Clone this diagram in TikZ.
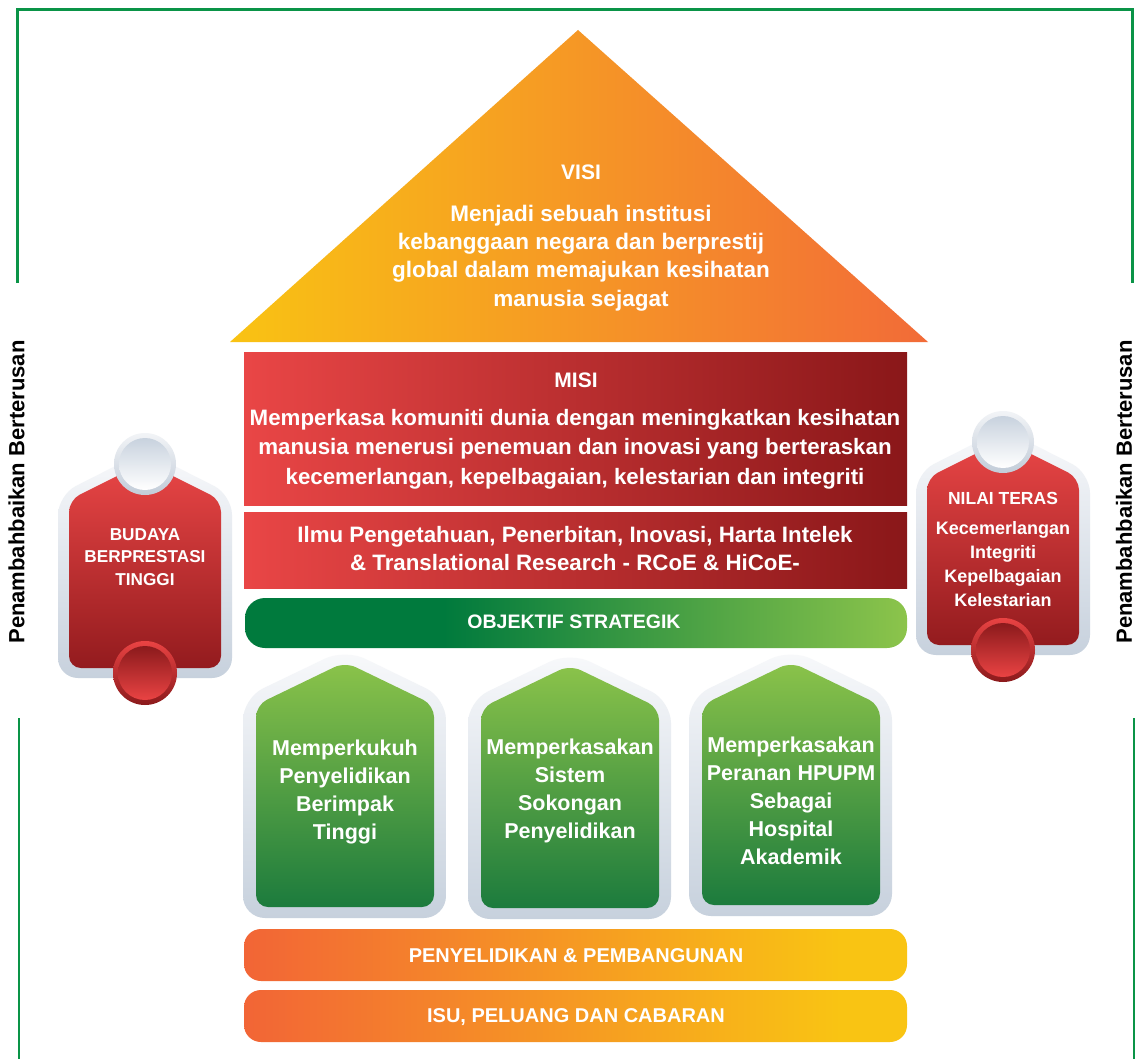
\documentclass[tikz,border=0pt]{standalone}
\usepackage{fontspec}
\setmainfont{Liberation Sans}
\definecolor{bordergreen}{HTML}{0A9447}
\definecolor{visiA}{HTML}{F9C313}
\definecolor{visiB}{HTML}{F26B38}
\definecolor{misiA}{HTML}{E94646}
\definecolor{misiB}{HTML}{8A1719}
\definecolor{objA}{HTML}{007A3D}
\definecolor{objB}{HTML}{8CC44B}
\definecolor{houseTop}{HTML}{8BC34A}
\definecolor{houseBot}{HTML}{1C7B3D}
\definecolor{frameTop}{HTML}{F8F9FB}
\definecolor{frameBot}{HTML}{C7D1DD}
\definecolor{redTop}{HTML}{E94646}
\definecolor{redBot}{HTML}{931B1E}
\definecolor{barA}{HTML}{F26536}
\definecolor{barB}{HTML}{F9C413}
\definecolor{ringTop}{HTML}{F2F4F7}
\definecolor{ringBot}{HTML}{C2CCD8}
\definecolor{discTop}{HTML}{C8D2DE}
\definecolor{dredA}{HTML}{E94343}
\definecolor{dredB}{HTML}{8B1A1C}
\pgfdeclarehorizontalshading{objshade}{100bp}{color(0bp)=(objA); color(40bp)=(objA); color(75bp)=(objB); color(100bp)=(objB)}
\pgfdeclarehorizontalshading{barshade}{100bp}{color(0bp)=(barA); color(25bp)=(barA); color(70bp)=(barB); color(100bp)=(barB)}
\tikzset{
  bline/.style={draw=bordergreen, line width=2.5pt},
  wtext/.style={text=white, align=center, inner sep=0pt},
  sidetext/.style={text=black, inner sep=0pt, font=\fontsize{22}{26}\selectfont\bfseries},
  housegreen/.style={top color=houseTop, bottom color=houseBot, rounded corners=12pt},
  houseframe/.style={top color=frameTop, bottom color=frameBot, rounded corners=22pt},
  pillarred/.style={top color=redTop, bottom color=redBot, rounded corners=12pt},
  pillarframe/.style={top color=frameTop, bottom color=frameBot, rounded corners=20pt},
}
\newcommand{\drawhouse}[5]{% L R S A B
  \shade[houseframe] ({#1-13},{#5+11}) -- ({#1-13},{#3-7}) -- ({(#1+#2)/2},{#4-13}) -- ({#2+12},{#3-7}) -- ({#2+12},{#5+11}) -- cycle;
  \shade[housegreen] (#1,#5) -- (#1,#3) -- ({(#1+#2)/2},#4) -- (#2,#3) -- (#2,#5) -- cycle;
}
\newcommand{\drawpillar}[3]{% cx ctop cbottom
  \shade[pillarframe] ({#1-87},{#3+5}) -- ({#1-87},{#2+31}) -- (#1,{#2-13}) -- ({#1+87},{#2+31}) -- ({#1+87},{#3+5}) -- cycle;
  \shade[pillarred] ({#1-76},{#3-5}) -- ({#1-76},{#2+36}) -- (#1,{#2-2}) -- ({#1+76},{#2+36}) -- ({#1+76},{#3-5}) -- cycle;
  \shade[top color=ringTop, bottom color=ringBot] (#1,#2) circle[radius=31];
  \shade[top color=discTop, bottom color=white] (#1,#2) circle[radius=26];
  \shade[top color=dredA, bottom color=dredB] (#1,#3) circle[radius=32];
  \shade[top color=dredB, bottom color=dredA] (#1,#3) circle[radius=27];
}
\begin{document}
\begin{tikzpicture}[x=1pt,y=-1pt]
\useasboundingbox (0,0) rectangle (1137,1059);
\fill[white] (0,0) rectangle (1137,1059);
% border
\draw[bline] (17.5,283) -- (17.5,9.5) -- (1132.5,9.5) -- (1132.5,283);
\draw[bline] (19,718) -- (19,1059);
\draw[bline] (1134,718) -- (1134,1059);
% roof
\shade[left color=visiA, right color=visiB] (230,342) -- (578,30) -- (928,342) -- cycle;
% mission blocks
\shade[left color=misiA, right color=misiB] (244,352) rectangle (907,505);
\shade[left color=misiA, right color=misiB] (244,512) rectangle (907,588);
\shade[shading=objshade, rounded corners=20pt] (245,598) rectangle (907,648);
% houses
\drawhouse{256}{434}{705}{662}{907}
\drawhouse{481}{659}{708}{665}{908}
\drawhouse{702}{880}{705}{662}{905}
% bars
\shade[shading=barshade, rounded corners=17pt] (244,929) rectangle (907,981);
\shade[shading=barshade, rounded corners=17pt] (244,990) rectangle (907,1042);
% pillars
\drawpillar{145}{464}{673}
\drawpillar{1003}{442}{650}
% texts
\node[wtext, font=\fontsize{21}{25}\selectfont\bfseries] (visiT) at (581,172) {VISI};
\node[wtext, font=\fontsize{22.5}{28.3}\selectfont\bfseries] (visiB) at (581,258) {Menjadi sebuah institusi\\kebanggaan negara dan berprestij\\global dalam memajukan kesihatan\\manusia sejagat};
\node[wtext, font=\fontsize{21}{25}\selectfont\bfseries] (misiT) at (576,380) {MISI};
\node[wtext, font=\fontsize{22.3}{29.5}\selectfont\bfseries] (misiB) at (575,449) {Memperkasa komuniti dunia dengan meningkatkan kesihatan\\manusia menerusi penemuan dan inovasi yang berteraskan\\kecemerlangan, kepelbagaian, kelestarian dan integriti};
\node[wtext, font=\fontsize{22.3}{28}\selectfont\bfseries] (ilmu) at (575,549) {Ilmu Pengetahuan, Penerbitan, Inovasi, Harta Intelek\\\& Translational Research - RCoE \& HiCoE-};
\node[wtext, font=\fontsize{19.5}{24}\selectfont\bfseries] (obj) at (574,622) {OBJEKTIF STRATEGIK};
\node[wtext, font=\fontsize{21.5}{28}\selectfont\bfseries] (h1) at (345,792) {Memperkukuh\\Penyelidikan\\Berimpak\\Tinggi};
\node[wtext, font=\fontsize{21.5}{28}\selectfont\bfseries] (h2) at (570,791) {Memperkasakan\\Sistem\\Sokongan\\Penyelidikan};
\node[wtext, font=\fontsize{21.5}{28}\selectfont\bfseries] (h3) at (791,801) {Memperkasakan\\Peranan HPUPM\\Sebagai\\Hospital\\Akademik};
\node[wtext, font=\fontsize{20}{24}\selectfont\bfseries] (pp) at (576,956) {PENYELIDIKAN \& PEMBANGUNAN};
\node[wtext, font=\fontsize{20}{24}\selectfont\bfseries] (isu) at (576,1017) {ISU, PELUANG DAN CABARAN};
\node[wtext, font=\fontsize{17.2}{22.5}\selectfont\bfseries] (budaya) at (145,557) {BUDAYA\\BERPRESTASI\\TINGGI};
\node[wtext, font=\fontsize{17.5}{24}\selectfont\bfseries] (nilaiT) at (1003,498) {NILAI TERAS};
\node[wtext, font=\fontsize{18}{24}\selectfont\bfseries] (nilaiB) at (1003,564) {Kecemerlangan\\Integriti\\Kepelbagaian\\Kelestarian};
\node[sidetext, rotate=90] (sideL) at (16.5,492) {Penambahbaikan Berterusan};
\node[sidetext, rotate=90] (sideR) at (1124,492) {Penambahbaikan Berterusan};
\end{tikzpicture}
\end{document}
